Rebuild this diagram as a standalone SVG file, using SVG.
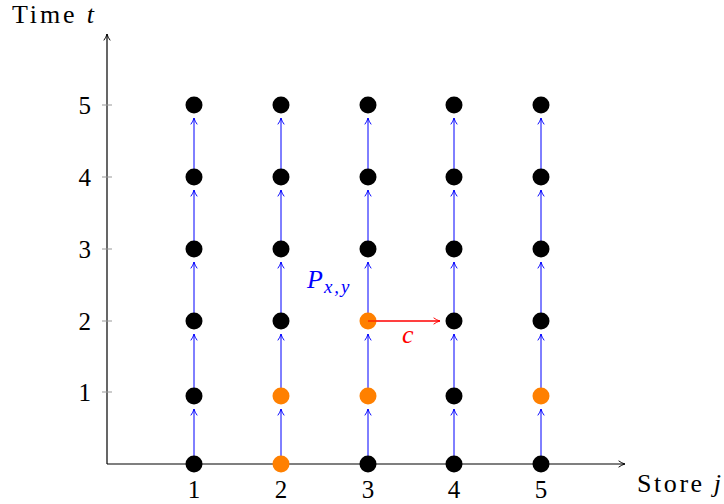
<svg xmlns="http://www.w3.org/2000/svg" width="724" height="504" viewBox="0 0 724 504">
<style>
text{font-family:"Liberation Serif","DejaVu Serif",serif;font-size:25px;fill:#000}
.it{font-style:italic}
.tick{stroke:#999;stroke-width:1}
.ax{stroke:#000;stroke-width:1.2;fill:none}
.up{stroke:#00f;stroke-width:1;fill:none;marker-end:url(#ba)}
.k{fill:#000}
.o{fill:#ff8000}
</style>
<defs>
<marker id="ka" viewBox="0 0 10 10" refX="9" refY="5" markerWidth="8" markerHeight="8" orient="auto" markerUnits="userSpaceOnUse"><path d="M1,1 Q5,4 9,5 Q5,6 1,9" fill="none" stroke="#000" stroke-width="1.2"/></marker>
<marker id="ba" viewBox="0 0 10 10" refX="9" refY="5" markerWidth="8" markerHeight="8" orient="auto" markerUnits="userSpaceOnUse"><path d="M1,1 Q5,4 9,5 Q5,6 1,9" fill="none" stroke="#00f" stroke-width="1.2"/></marker>
<marker id="ra" viewBox="0 0 10 10" refX="9" refY="5" markerWidth="8" markerHeight="8" orient="auto" markerUnits="userSpaceOnUse"><path d="M1,1 Q5,4 9,5 Q5,6 1,9" fill="none" stroke="#f00" stroke-width="1.2"/></marker>
</defs>
<g id="axes">
<line class="ax" x1="107" y1="464" x2="625" y2="464" marker-end="url(#ka)"/>
<line class="ax" x1="107" y1="464" x2="107" y2="34" marker-end="url(#ka)"/>
<g class="tick">
<line x1="102" y1="392" x2="112" y2="392"/>
<line x1="102" y1="321" x2="112" y2="321"/>
<line x1="102" y1="249" x2="112" y2="249"/>
<line x1="102" y1="177" x2="112" y2="177"/>
<line x1="102" y1="105" x2="112" y2="105"/>
</g>
<g text-anchor="end">
<text x="91" y="401">1</text>
<text x="91" y="330">2</text>
<text x="91" y="258">3</text>
<text x="91" y="186">4</text>
<text x="91" y="114">5</text>
</g>
<g text-anchor="middle">
<text x="194" y="498">1</text>
<text x="281" y="498">2</text>
<text x="368" y="498">3</text>
<text x="454" y="498">4</text>
<text x="541" y="498">5</text>
</g>
<text x="12" y="23" style="font-size:26px" textLength="82" lengthAdjust="spacing">Time <tspan class="it">t</tspan></text>
<text x="637" y="492" style="font-size:26px" textLength="84" lengthAdjust="spacing">Store <tspan class="it">j</tspan></text>
</g>
<g id="connectors">
<g class="up">
<line x1="194" y1="464" x2="194" y2="409"/><line x1="194" y1="396" x2="194" y2="334"/><line x1="194" y1="321" x2="194" y2="262"/><line x1="194" y1="249" x2="194" y2="190"/><line x1="194" y1="177" x2="194" y2="118"/>
<line x1="281" y1="464" x2="281" y2="409"/><line x1="281" y1="396" x2="281" y2="334"/><line x1="281" y1="321" x2="281" y2="262"/><line x1="281" y1="249" x2="281" y2="190"/><line x1="281" y1="177" x2="281" y2="118"/>
<line x1="368" y1="464" x2="368" y2="409"/><line x1="368" y1="396" x2="368" y2="334"/><line x1="368" y1="321" x2="368" y2="262"/><line x1="368" y1="249" x2="368" y2="190"/><line x1="368" y1="177" x2="368" y2="118"/>
<line x1="454" y1="464" x2="454" y2="409"/><line x1="454" y1="396" x2="454" y2="334"/><line x1="454" y1="321" x2="454" y2="262"/><line x1="454" y1="249" x2="454" y2="190"/><line x1="454" y1="177" x2="454" y2="118"/>
<line x1="541" y1="464" x2="541" y2="409"/><line x1="541" y1="396" x2="541" y2="334"/><line x1="541" y1="321" x2="541" y2="262"/><line x1="541" y1="249" x2="541" y2="190"/><line x1="541" y1="177" x2="541" y2="118"/>
</g>
<line x1="368" y1="321" x2="440" y2="321" stroke="#f00" stroke-width="1" marker-end="url(#ra)"/>
<text x="307" y="288" class="it" style="fill:#00f;font-size:26px">P<tspan dx="1" dy="5" style="font-size:19px;letter-spacing:2px">x,y</tspan></text>
<text x="402" y="343" class="it" style="fill:#f00;font-size:26px">c</text>
</g>
<g id="col1"><circle class="k" cx="194" cy="464" r="8.5"/><circle class="k" cx="194" cy="396" r="8.5"/><circle class="k" cx="194" cy="321" r="8.5"/><circle class="k" cx="194" cy="249" r="8.5"/><circle class="k" cx="194" cy="177" r="8.5"/><circle class="k" cx="194" cy="105" r="8.5"/></g>
<g id="col2"><circle class="o" cx="281" cy="464" r="8.5"/><circle class="o" cx="281" cy="396" r="8.5"/><circle class="k" cx="281" cy="321" r="8.5"/><circle class="k" cx="281" cy="249" r="8.5"/><circle class="k" cx="281" cy="177" r="8.5"/><circle class="k" cx="281" cy="105" r="8.5"/></g>
<g id="col3"><circle class="k" cx="368" cy="464" r="8.5"/><circle class="o" cx="368" cy="396" r="8.5"/><circle class="o" cx="368" cy="321" r="8.5"/><circle class="k" cx="368" cy="249" r="8.5"/><circle class="k" cx="368" cy="177" r="8.5"/><circle class="k" cx="368" cy="105" r="8.5"/></g>
<g id="col4"><circle class="k" cx="454" cy="464" r="8.5"/><circle class="k" cx="454" cy="396" r="8.5"/><circle class="k" cx="454" cy="321" r="8.5"/><circle class="k" cx="454" cy="249" r="8.5"/><circle class="k" cx="454" cy="177" r="8.5"/><circle class="k" cx="454" cy="105" r="8.5"/></g>
<g id="col5"><circle class="k" cx="541" cy="464" r="8.5"/><circle class="o" cx="541" cy="396" r="8.5"/><circle class="k" cx="541" cy="321" r="8.5"/><circle class="k" cx="541" cy="249" r="8.5"/><circle class="k" cx="541" cy="177" r="8.5"/><circle class="k" cx="541" cy="105" r="8.5"/></g>
<line x1="368" y1="321" x2="440" y2="321" stroke="#f00" stroke-width="1"/>
</svg>
